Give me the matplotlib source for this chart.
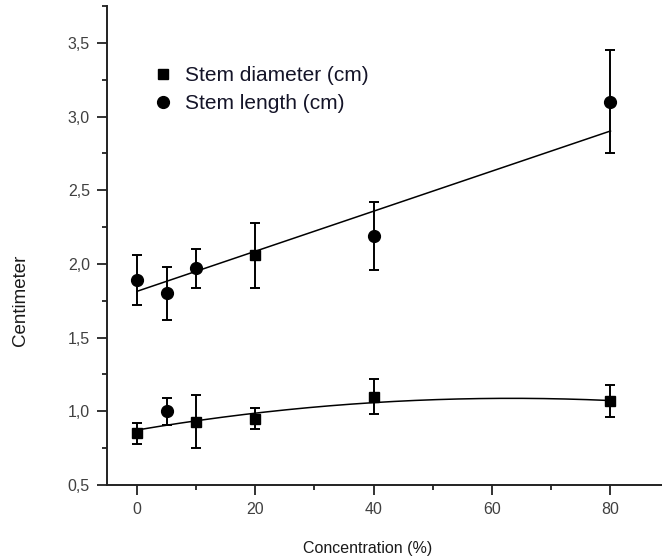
import numpy as np
import matplotlib
matplotlib.use("Agg")
import matplotlib.pyplot as plt
from matplotlib.lines import Line2D
from matplotlib.ticker import FixedLocator, MultipleLocator

plt.rcParams['font.family'] = ['Liberation Sans', 'DejaVu Sans']

# Concentration levels (%)
concentration = [0, 5, 10, 20, 40, 80]

# Stem diameter (cm): mean and error
diameter_mean = [0.85, 1.00, 0.93, 0.95, 1.10, 1.07]
diameter_err = [0.07, 0.09, 0.18, 0.07, 0.12, 0.11]
diameter_markers = ['s', 'o', 's', 's', 's', 's']

# Stem length (cm): mean and error
length_mean = [1.89, 1.80, 1.97, 2.06, 2.19, 3.10]
length_err = [0.17, 0.18, 0.13, 0.22, 0.23, 0.35]
length_markers = ['o', 'o', 'o', 's', 'o', 'o']

# Fitted trends: quadratic for diameter, linear for length (constant, x, x^2)
diameter_fit = [0.873, 0.0068, -5.375e-5]
length_fit = [1.814, 0.0136, 0.0]

# Axis ticks
y_ticks = [0.5, 1.0, 1.5, 2.0, 2.5, 3.0, 3.5]
y_tick_labels = ['0,5', '1,0', '1,5', '2,0', '2,5', '3,0', '3,5']
x_ticks = [0, 20, 40, 60, 80]
x_tick_labels = ['0', '20', '40', '60', '80']

fig = plt.figure(figsize=(6.62, 5.6), dpi=100)
ax = fig.add_axes([0.1621, 0.1339, 0.8495, 0.8554])

marker_size = {'s': 7.5, 'o': 8.5}


def draw_series(means, errs, markers, fit):
    ax.errorbar(concentration, means, yerr=errs, fmt='none', ecolor='black',
                elinewidth=1.4, capsize=3.3, capthick=1.4, zorder=2)
    for x, y, m in zip(concentration, means, markers):
        ax.plot([x], [y], linestyle='none', marker=m, color='black',
                markersize=marker_size[m], zorder=3)
    xs = np.linspace(concentration[0], concentration[-1], 200)
    ys = fit[0] + fit[1] * xs + fit[2] * xs ** 2
    ax.plot(xs, ys, color='black', linewidth=1.1, zorder=2)


draw_series(diameter_mean, diameter_err, diameter_markers, diameter_fit)
draw_series(length_mean, length_err, length_markers, length_fit)

ax.set_xlim(-5, 90)
ax.set_ylim(0.5, 3.75)

ax.spines['top'].set_visible(False)
ax.spines['right'].set_visible(False)
for side in ('left', 'bottom'):
    ax.spines[side].set_linewidth(1.4)
    ax.spines[side].set_color('#222222')

ax.xaxis.set_major_locator(FixedLocator(x_ticks))
ax.set_xticklabels(x_tick_labels)
ax.xaxis.set_minor_locator(MultipleLocator(10))
ax.yaxis.set_major_locator(FixedLocator(y_ticks))
ax.set_yticklabels(y_tick_labels)
ax.yaxis.set_minor_locator(MultipleLocator(0.25))

ax.tick_params(which='major', direction='out', length=7.5, width=1.3,
               color='#222222', labelsize=11.5, labelcolor='#404040', pad=5)
ax.tick_params(which='minor', direction='out', length=3.5, width=1.3,
               color='#222222')

ax.set_xlabel('Concentration (%)', fontsize=11.5, color='#1a1a1a')
ax.xaxis.set_label_coords(0.4636, -0.1315)
ax.xaxis.label.set_verticalalignment('center')
ax.set_ylabel('Centimeter', fontsize=13.5, color='#1a1a1a')
ax.yaxis.set_label_coords(-0.154, 0.386)
ax.yaxis.label.set_verticalalignment('center')

handles = [
    Line2D([], [], linestyle='none', marker='s', color='black', markersize=7.5),
    Line2D([], [], linestyle='none', marker='o', color='black', markersize=8.5),
]
fig.legend(handles, ['Stem diameter (cm)', 'Stem length (cm)'],
           loc='upper left', bbox_to_anchor=(0.2304, 0.882), frameon=False,
           fontsize=15, handlelength=1.0, handletextpad=0.55,
           labelspacing=0.45, borderpad=0, borderaxespad=0,
           labelcolor='#141428')

fig.savefig('out.png', dpi=100)
